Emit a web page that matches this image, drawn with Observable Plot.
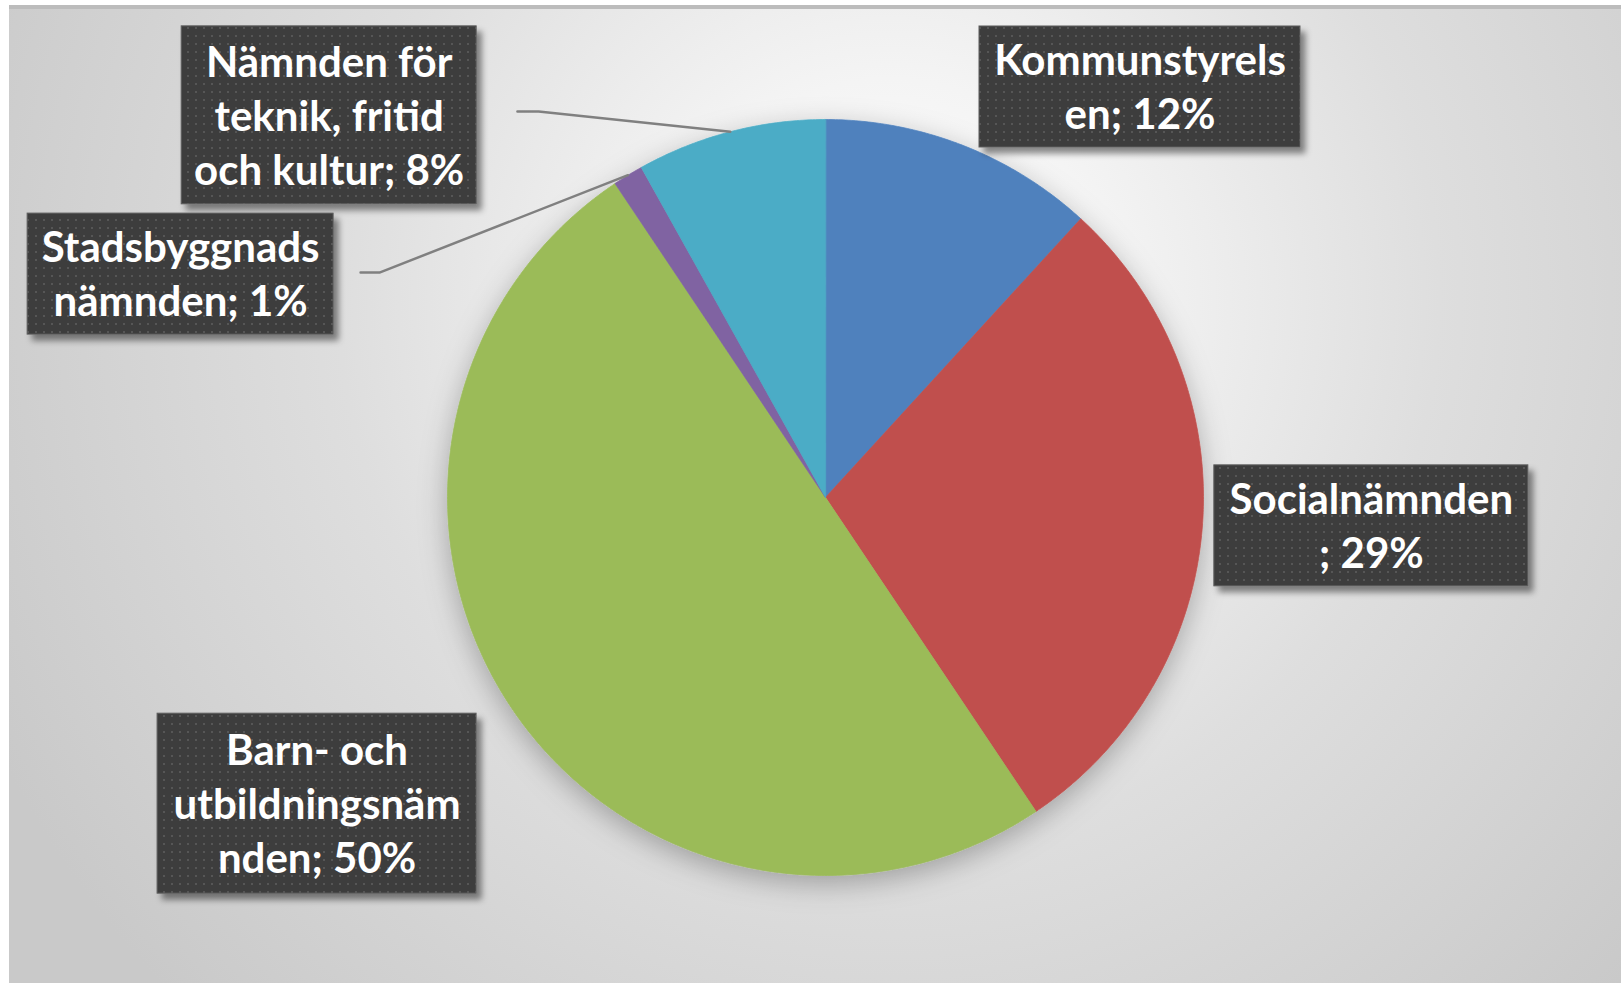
<!DOCTYPE html>
<html>
<head>
<meta charset="utf-8">
<script src="https://cdn.jsdelivr.net/npm/d3@7"></script>
<script src="https://cdn.jsdelivr.net/npm/@observablehq/plot@0.6"></script>
<style>
  html, body { margin: 0; padding: 0; background: #ffffff; overflow: hidden; }
  #wrap { position: relative; width: 1621px; height: 983px; }
  #bg {
    position: absolute; left: 9px; top: 5px; right: 0; bottom: 0;
    border-top: 4px solid #bcbcbc;
    background: radial-gradient(circle 1000px at 880px 290px, #ffffff 0%, #f4f4f4 22%, #dedede 55%, #c9c9c9 100%);
  }
  #chart { position: absolute; left: 0; top: 0; }
</style>
</head>
<body>
<div id="wrap"><div id="bg"></div><div id="chart"></div></div>
<script>
// ---- data ----
const categories = ["Kommunstyrelsen", "Socialnämnden", "Barn- och utbildningsnämnden", "Stadsbyggnadsnämnden", "Nämnden för teknik, fritid och kultur"];
const values = [11.8, 28.8, 50.0, 1.3, 8.1];
const colors = ["#4F81BD", "#C0504D", "#9BBB59", "#8064A2", "#4BACC6"];
const labelWrapped = ["Kommunstyrels\nen", "Socialnämnden\n", "Barn- och\nutbildningsnäm\nnden", "Stadsbyggnads\nnämnden", "Nämnden för\nteknik, fritid\noch kultur"];

// ---- layout (pixels / radius units) ----
const W = 1621, H = 983, R = 378, CX = 825, CY = 497;
const labelCenter = [[0.832, 1.086], [1.444, -0.075], [-1.345, -0.810], [-1.706, 0.591], [-1.313, 1.011]];
const labelBox = [[321, 121], [314, 121], [319, 180], [306, 121], [295, 178]];
const leaderElbows = [null, null, null, [[-1.230, 0.595], [-1.180, 0.595]], [[-0.815, 1.021], [-0.759, 1.021]]];

// ---- derived geometry ----
const total = d3.sum(values);
const slices = [];
let acc = 0;
values.forEach((v, i) => {
  const a0 = acc / total * 2 * Math.PI;
  acc += v;
  const a1 = acc / total * 2 * Math.PI;
  slices.push({name: categories[i], a0, a1, mid: (a0 + a1) / 2, pct: Math.round(v / total * 100), i});
});

const slicePts = slices.map(s => {
  const pts = [{name: s.name, x: 0, y: 0}];
  const n = Math.max(2, Math.ceil((s.a1 - s.a0) / (Math.PI / 360)));
  for (let k = 0; k <= n; k++) {
    const a = s.a0 + (s.a1 - s.a0) * k / n;
    pts.push({name: s.name, x: Math.sin(a), y: Math.cos(a)});
  }
  return pts;
});

const boxes = slices.map((s, i) => {
  const [cx, cy] = labelCenter[i];
  const [w, h] = labelBox[i];
  return {name: s.name, x: cx, y: cy, x1: cx - w / 2 / R, x2: cx + w / 2 / R, y1: cy - h / 2 / R, y2: cy + h / 2 / R,
          label: labelWrapped[i] + "; " + s.pct + "%"};
});

const leaderPts = [];
slices.forEach((s, i) => {
  if (!leaderElbows[i]) return;
  const [p0, p1] = leaderElbows[i];
  leaderPts.push({name: s.name, x: p0[0], y: p0[1]});
  leaderPts.push({name: s.name, x: p1[0], y: p1[1]});
  leaderPts.push({name: s.name, x: Math.sin(s.mid), y: Math.cos(s.mid)});
});

const svg = Plot.plot({
  width: W, height: H, margin: 0,
  style: {background: "transparent", overflow: "visible"},
  x: {domain: [(0 - CX) / R, (W - CX) / R], axis: null},
  y: {domain: [(CY - H) / R, CY / R], axis: null},
  marks: [
    ...slicePts.map((pts, i) => Plot.line(pts, {x: "x", y: "y", fill: colors[i], stroke: colors[i], strokeWidth: 0.75, curve: "linear-closed"})),
    Plot.line(leaderPts, {x: "x", y: "y", z: "name", stroke: "#808080", strokeWidth: 2.5}),
    Plot.rect(boxes, {x1: "x1", x2: "x2", y1: "y1", y2: "y2", fill: "url(#dots)", stroke: "#5e5e5e", strokeWidth: 1}),
    Plot.text(boxes, {x: "x", y: "y", text: "label", fill: "white", fontFamily: "Lato", fontWeight: 700, fontSize: 42, lineHeight: 54 / 42, textAnchor: "middle", dy: -2})
  ]
});

const ns = "http://www.w3.org/2000/svg";
const defs = document.createElementNS(ns, "defs");
defs.innerHTML = `
  <pattern id="dots" width="8" height="8" patternUnits="userSpaceOnUse">
    <rect width="8" height="8" fill="#3e3e3e"/>
    <rect x="3" y="3" width="2" height="2" fill="#565656"/>
  </pattern>
  <filter id="boxShadow" x="-20%" y="-20%" width="150%" height="150%">
    <feDropShadow dx="5" dy="6" stdDeviation="3" flood-color="#000" flood-opacity="0.45"/>
  </filter>
  <filter id="pieShadow" x="-30%" y="-30%" width="160%" height="160%">
    <feDropShadow dx="0" dy="8" stdDeviation="14" flood-color="#000" flood-opacity="0.28"/>
  </filter>`;
svg.insertBefore(defs, svg.firstChild);

// group the pie slice layers so a single shadow is cast
const lineGroups = Array.from(svg.querySelectorAll(':scope > g[aria-label="line"]'));
const pieGroups = lineGroups.slice(0, slices.length);
if (pieGroups.length) {
  const wrapG = document.createElementNS(ns, "g");
  wrapG.setAttribute("filter", "url(#pieShadow)");
  pieGroups[0].parentNode.insertBefore(wrapG, pieGroups[0]);
  pieGroups.forEach(g => wrapG.appendChild(g));
}
const boxG = svg.querySelector(':scope > g[aria-label="rect"]');
if (boxG) boxG.setAttribute("filter", "url(#boxShadow)");

document.getElementById("chart").appendChild(svg);
</script>
</body>
</html>
